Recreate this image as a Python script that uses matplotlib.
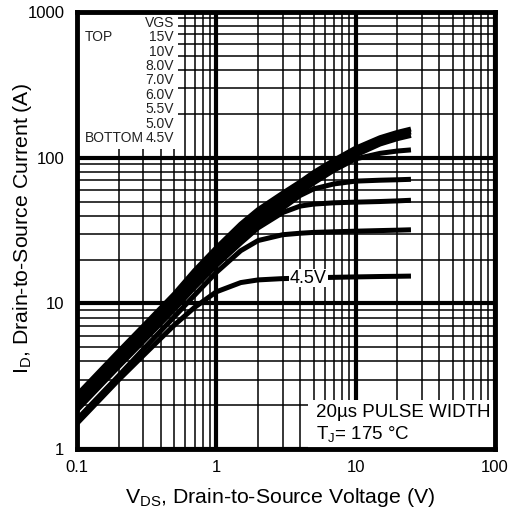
import numpy as np
import matplotlib
matplotlib.use("Agg")
import matplotlib.pyplot as plt
from matplotlib.patches import Rectangle
from matplotlib.ticker import FixedLocator, FixedFormatter, LogLocator, NullFormatter

plt.rcParams['font.family'] = ['Liberation Sans', 'DejaVu Sans']
plt.rcParams['mathtext.fontset'] = 'custom'
plt.rcParams['mathtext.rm'] = 'Liberation Sans'
plt.rcParams['mathtext.it'] = 'Liberation Sans'

# drain-source voltage samples (V)
vds = [0.1, 0.2, 0.3, 0.5, 0.7, 1.0, 1.5, 2.0, 3.0, 4.0, 5.0, 7.0, 10, 15, 20, 25]

# drain current (A) for each gate voltage
id_15v = [2.35, 4.7, 7.0, 11.6, 16.8, 24.0, 35.0, 44.0, 57.0, 68.0, 79.0, 96.0, 116, 137, 149, 157]
id_10v = [2.25, 4.5, 6.7, 11.1, 16.0, 22.8, 33.0, 41.5, 54.0, 64.5, 75.0, 91.0, 110, 131, 143, 150]
id_8v = [2.15, 4.3, 6.4, 10.6, 15.2, 21.6, 31.0, 39.0, 51.0, 61.0, 71.0, 86.0, 104, 124, 135, 142]
id_7v = [2.05, 4.1, 6.1, 10.1, 14.4, 20.4, 29.5, 37.0, 48.0, 58.0, 67.0, 82.0, 98, 107, 111, 113]
id_6v = [1.95, 3.9, 5.8, 9.6, 13.6, 19.2, 27.5, 34.5, 45.0, 55.0, 61.0, 66.0, 69, 70, 70.5, 71]
id_5v5 = [1.85, 3.7, 5.5, 9.1, 12.9, 18.2, 26.0, 33.0, 42.0, 46.5, 48.0, 49.0, 49.5, 50, 50.5, 51]
id_5v = [1.6, 3.2, 4.85, 8.1, 11.4, 16.3, 23.0, 27.0, 29.6, 30.3, 30.7, 31.0, 31.3, 31.6, 31.8, 32]
id_4v5 = [1.5, 3.0, 4.4, 7.1, 9.4, 12.0, 13.9, 14.5, 14.8, 14.9, 15.0, 15.1, 15.2, 15.3, 15.35, 15.4]

curves = [id_15v, id_10v, id_8v, id_7v, id_6v, id_5v5, id_5v, id_4v5]

legend_left = ['', 'TOP', '', '', '', '', '', '', 'BOTTOM']
legend_right = ['VGS', '15V', '10V', '8.0V', '7.0V', '6.0V', '5.5V', '5.0V', '4.5V']

xticks = [0.1, 1, 10, 100]
xlabels = ['0.1', '1', '10', '100']
yticks = [1, 10, 100, 1000]
ylabels = ['1', '10', '100', '1000']

fig = plt.figure(figsize=(5.16, 5.14), dpi=100)
ax = fig.add_axes([0.149, 0.126, 0.81, 0.851])
ax.set_xscale('log')
ax.set_yscale('log')
ax.set_xlim(0.1, 100)
ax.set_ylim(1, 1000)

ax.xaxis.set_major_locator(FixedLocator(xticks))
ax.xaxis.set_major_formatter(FixedFormatter(xlabels))
ax.yaxis.set_major_locator(FixedLocator(yticks))
ax.yaxis.set_major_formatter(FixedFormatter(ylabels))
ax.xaxis.set_minor_locator(LogLocator(base=10, subs=range(2, 10)))
ax.yaxis.set_minor_locator(LogLocator(base=10, subs=range(2, 10)))
ax.xaxis.set_minor_formatter(NullFormatter())
ax.yaxis.set_minor_formatter(NullFormatter())

ax.set_axisbelow(True)
ax.grid(which='major', color='black', lw=3)
ax.grid(which='minor', color='black', lw=1.1)
ax.tick_params(which='both', length=0, labelsize=12)
ax.tick_params(axis='x', pad=8)
ax.tick_params(axis='y', pad=9)
for s in ax.spines.values():
    s.set_linewidth(3.5)

# white panels hiding the grid
ax.add_patch(Rectangle((0, 0.686), 0.242, 0.314, transform=ax.transAxes,
                       facecolor='white', edgecolor='none', zorder=1))
ax.add_patch(Rectangle((0.553, 0), 0.447, 0.112, transform=ax.transAxes,
                       facecolor='white', edgecolor='none', zorder=1))

for c in curves:
    ax.plot(vds, c, color='black', lw=3.6, solid_capstyle='butt', zorder=2)

ax.text(4.6, 14.9, '4.5V', fontsize=13, ha='center', va='center', zorder=3,
        bbox=dict(facecolor='white', edgecolor='none', pad=0.5))

y0 = 0.975
for i, (l, r) in enumerate(zip(legend_left, legend_right)):
    y = y0 - i * 0.033
    if l:
        ax.text(0.019, y, l, transform=ax.transAxes, fontsize=10,
                ha='left', va='center', color='#222222', zorder=3)
    ax.text(0.232, y, r, transform=ax.transAxes, fontsize=10,
            ha='right', va='center', color='#222222', zorder=3)

ax.text(0.572, 0.085, '20µs PULSE WIDTH', transform=ax.transAxes,
        fontsize=13.5, ha='left', va='center', zorder=3)
ax.text(0.572, 0.035, r'T$_\mathregular{J}$= 175 °C', transform=ax.transAxes,
        fontsize=13.5, ha='left', va='center', zorder=3)

fig.text(0.542, 0.033, r'V$_\mathregular{DS}$, Drain-to-Source Voltage (V)',
         fontsize=15.3, ha='center', va='center')
fig.text(0.043, 0.555, r'I$_\mathregular{D}$, Drain-to-Source Current (A)',
         fontsize=15.3, ha='center', va='center', rotation=90)

fig.savefig('out.png', dpi=100)
